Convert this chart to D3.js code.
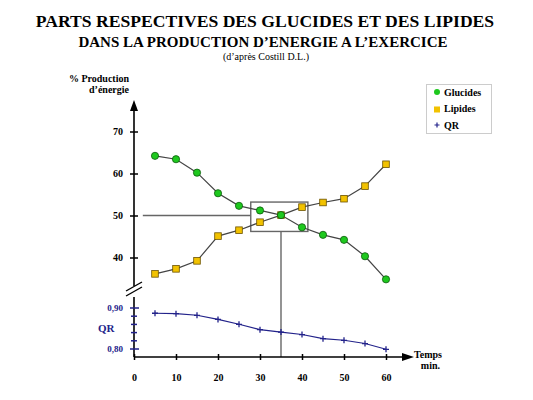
<!DOCTYPE html>
<html>
<head>
<meta charset="utf-8">
<script src="https://cdn.jsdelivr.net/npm/d3@7"></script>
<style>
  body { margin: 0; background: #fff; }
  text { font-family: "Liberation Serif", "Times New Roman", serif; }
</style>
</head>
<body>
<svg id="chart" width="533" height="400"></svg>
<script>
// values
var minutes = [5, 10, 15, 20, 25, 30, 35, 40, 45, 50, 55, 60];
var glucides = [64.2, 63.4, 60.2, 55.3, 52.3, 51.2, 50.1, 47.2, 45.4, 44.2, 40.3, 34.8];
var lipides = [36.1, 37.3, 39.2, 45.1, 46.5, 48.4, 50.1, 52.0, 53.1, 54.0, 57.0, 62.2];
var qr = [0.886, 0.885, 0.881, 0.871, 0.859, 0.846, 0.840, 0.834, 0.824, 0.820, 0.812, 0.798];
var timeTicks = [0, 10, 20, 30, 40, 50, 60];
var pctTicks = [40, 50, 60, 70];
var qrTicks = [0.80, 0.82, 0.84, 0.86, 0.88, 0.90];
var qrLabels = [0.80, 0.90];
var legendItems = ['Glucides', 'Lipides', 'QR'];

var svg = d3.select('#chart');

var x = d3.scaleLinear().domain([0, 60]).range([134, 386]);
var y = d3.scaleLinear().domain([40, 70]).range([257.5, 131.5]);
var yq = d3.scaleLinear().domain([0.80, 0.90]).range([348.5, 307.5]);

var green = '#1ec81e', gold = '#f2c200', navy = '#22228a', lineCol = '#444';
var axisY0 = 357; // bottom of the plot (x axis)

// titles
svg.append('text').attr('x', 265).attr('y', 27).attr('text-anchor', 'middle')
  .attr('font-size', 17.6).attr('font-weight', 'bold')
  .text('PARTS RESPECTIVES DES GLUCIDES ET DES LIPIDES');
svg.append('text').attr('x', 263).attr('y', 47).attr('text-anchor', 'middle')
  .attr('font-size', 15).attr('font-weight', 'bold')
  .text('DANS LA PRODUCTION D\u2019ENERGIE A L\u2019EXERCICE');
svg.append('text').attr('x', 266).attr('y', 60).attr('text-anchor', 'middle')
  .attr('font-size', 10)
  .text('(d\u2019apr\u00e8s Costill D.L.)');

svg.append('text').attr('x', 129).attr('y', 82).attr('text-anchor', 'end')
  .attr('font-size', 10).attr('font-weight', 'bold').text('% Production');
svg.append('text').attr('x', 129).attr('y', 93).attr('text-anchor', 'end')
  .attr('font-size', 10).attr('font-weight', 'bold').text('d\u2019\u00e9nergie');

// annotation: crossing point around 35 min / 50 %
var cross = { t: 35, v: 50 };
var box = { t0: 27.8, t1: 41.4, v0: 46.2, v1: 53.2 };
var ann = svg.append('g').attr('stroke', '#666').attr('stroke-width', 1.4).attr('fill', 'none');
ann.append('line').attr('x1', x(2.1)).attr('x2', x(box.t0))
  .attr('y1', y(cross.v)).attr('y2', y(cross.v));
ann.append('rect').attr('x', x(box.t0)).attr('y', y(box.v1))
  .attr('width', x(box.t1) - x(box.t0)).attr('height', y(box.v0) - y(box.v1));
ann.append('line').attr('x1', x(cross.t)).attr('x2', x(cross.t))
  .attr('y1', y(box.v0)).attr('y2', axisY0);

// upper y axis (percent)
var yAxis = svg.append('g').attr('transform', 'translate(' + x(0) + ',0)')
  .call(d3.axisLeft(y).tickValues(pctTicks).tickSize(4).tickPadding(7));
yAxis.select('.domain').remove();
yAxis.selectAll('.tick line').attr('x1', -4).attr('x2', 4).attr('stroke-width', 1.5);
yAxis.selectAll('.tick text').attr('font-family', 'Liberation Serif')
  .attr('font-size', 10).attr('font-weight', 'bold').attr('fill', '#000');

svg.append('line').attr('x1', x(0)).attr('x2', x(0)).attr('y1', 108).attr('y2', 286)
  .attr('stroke', '#000').attr('stroke-width', 1.6);
svg.append('path').attr('d', 'M' + x(0) + ',100 l-4,11 l8,0 z').attr('fill', '#000');

// axis break marks
[0, 5].forEach(function(dy) {
  svg.append('line').attr('x1', 126).attr('y1', 291 + dy).attr('x2', 142).attr('y2', 282 + dy)
    .attr('stroke', '#000').attr('stroke-width', 1.4);
});

// lower y axis (QR)
svg.append('line').attr('x1', x(0)).attr('x2', x(0)).attr('y1', 297).attr('y2', axisY0)
  .attr('stroke', '#000').attr('stroke-width', 1.6);
var qAxis = svg.append('g').attr('transform', 'translate(' + x(0) + ',0)')
  .call(d3.axisLeft(yq).tickValues(qrTicks).tickSize(3).tickPadding(8)
    .tickFormat(function(d) {
      return qrLabels.some(function(l) { return Math.abs(l - d) < 1e-6; })
        ? d3.format('.2f')(d).replace('.', ',') : '';
    }));
qAxis.select('.domain').remove();
qAxis.selectAll('.tick line').attr('stroke', navy).attr('stroke-width', 1.5)
  .attr('x1', function(d) { return qrLabels.indexOf(d) >= 0 ? -4 : -3; })
  .attr('x2', function(d) { return qrLabels.indexOf(d) >= 0 ? 5 : 3; });
qAxis.selectAll('.tick text').attr('font-family', 'Liberation Serif')
  .attr('font-size', 9).attr('font-weight', 'bold').attr('fill', navy);
svg.append('text').attr('x', 98).attr('y', 332).attr('font-size', 11)
  .attr('font-weight', 'bold').attr('fill', navy).text('QR');

// x axis
var xAxis = svg.append('g').attr('transform', 'translate(0,' + axisY0 + ')')
  .call(d3.axisBottom(x).tickValues(timeTicks).tickSize(3).tickPadding(14));
xAxis.select('.domain').remove();
xAxis.selectAll('.tick line').attr('y1', -3).attr('y2', 3).attr('stroke-width', 1.5);
xAxis.selectAll('.tick text').attr('font-family', 'Liberation Serif')
  .attr('font-size', 10).attr('font-weight', 'bold').attr('fill', '#000');
svg.append('line').attr('x1', x(0)).attr('x2', 404).attr('y1', axisY0).attr('y2', axisY0)
  .attr('stroke', '#000').attr('stroke-width', 1.6);
svg.append('path').attr('d', 'M414,' + axisY0 + ' l-12,-4 l0,8 z').attr('fill', '#000');
svg.append('text').attr('x', 442).attr('y', 358).attr('text-anchor', 'end')
  .attr('font-size', 10).attr('font-weight', 'bold').text('Temps');
svg.append('text').attr('x', 440).attr('y', 369).attr('text-anchor', 'end')
  .attr('font-size', 10).attr('font-weight', 'bold').text('min.');

// series lines
function series(vals, sy) {
  return d3.line().x(function(d, i) { return x(minutes[i]); })
    .y(function(d) { return sy(d); })(vals);
}
svg.append('path').attr('d', series(glucides, y)).attr('fill', 'none')
  .attr('stroke', lineCol).attr('stroke-width', 1.2);
svg.append('path').attr('d', series(lipides, y)).attr('fill', 'none')
  .attr('stroke', lineCol).attr('stroke-width', 1.2);
svg.append('path').attr('d', series(qr, yq)).attr('fill', 'none')
  .attr('stroke', navy).attr('stroke-width', 1.1);

svg.append('g').selectAll('rect').data(lipides).join('rect')
  .attr('x', function(d, i) { return x(minutes[i]) - 3.3; })
  .attr('y', function(d) { return y(d) - 3.3; })
  .attr('width', 6.6).attr('height', 6.6)
  .attr('fill', gold).attr('stroke', '#6b5200').attr('stroke-width', 0.8);
svg.append('g').selectAll('circle').data(glucides).join('circle')
  .attr('cx', function(d, i) { return x(minutes[i]); })
  .attr('cy', function(d) { return y(d); })
  .attr('r', 3.6)
  .attr('fill', green).attr('stroke', '#0b5a0b').attr('stroke-width', 0.8);
svg.append('g').selectAll('path').data(qr).join('path')
  .attr('d', function(d, i) {
    var cx = x(minutes[i]), cy = yq(d);
    return 'M' + (cx - 3) + ',' + cy + 'h6M' + cx + ',' + (cy - 3) + 'v6';
  })
  .attr('stroke', navy).attr('stroke-width', 1.3);

// legend
var lg = svg.append('g');
lg.append('rect').attr('x', 426.5).attr('y', 84.5).attr('width', 65).attr('height', 49)
  .attr('fill', '#fff').attr('stroke', '#ccc');
legendItems.forEach(function(name, i) {
  var ly = 92 + i * 16.5;
  if (i === 0) {
    lg.append('circle').attr('cx', 437).attr('cy', ly).attr('r', 3).attr('fill', green);
  } else if (i === 1) {
    lg.append('rect').attr('x', 434).attr('y', ly - 2).attr('width', 6).attr('height', 6)
      .attr('fill', gold);
  } else {
    lg.append('path').attr('d', 'M434.5,' + ly + 'h5M437,' + (ly - 2.5) + 'v5')
      .attr('stroke', navy).attr('stroke-width', 1.2);
  }
  lg.append('text').attr('x', 444).attr('y', ly + 3.5).attr('font-size', 10)
    .attr('font-weight', 'bold').text(name);
});
</script>
</body>
</html>
